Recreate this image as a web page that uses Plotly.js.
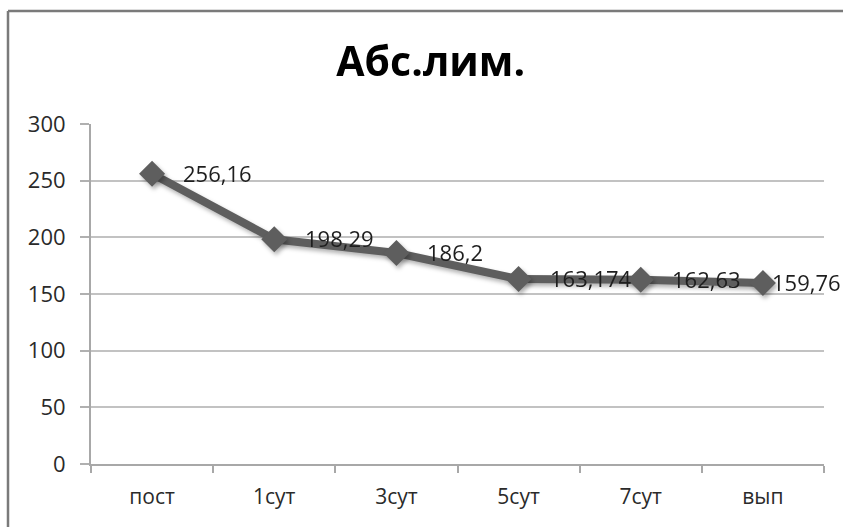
<!DOCTYPE html>
<html>
<head>
<meta charset="utf-8">
<script src="https://cdn.plot.ly/plotly-3.0.1.min.js"></script>
<style>
  html, body { margin: 0; padding: 0; background: #fff; }
  #chart { width: 843px; height: 527px; }
  /* soft drop shadow under the line and markers */
  #chart .scatterlayer .trace .lines,
  #chart .scatterlayer .trace .points {
    filter: drop-shadow(2px 3px 2px rgba(0,0,0,0.3));
  }
</style>
</head>
<body>
<div id="chart"></div>
<script>
// Periods of observation
const categories = ['пост', '1сут', '3сут', '5сут', '7сут', 'вып'];
// Absolute lymphocyte count per period
const values = [256.16, 198.29, 186.2, 163.174, 162.63, 159.76];
// Y axis ticks
const yTicks = [0, 50, 100, 150, 200, 250, 300];

// Labels written with a decimal comma
const labels = values.map(v => String(v).replace('.', ','));

const FONT = '"Open Sans", "DejaVu Sans", sans-serif';

const trace = {
  type: 'scatter',
  mode: 'lines+markers',
  x: categories,
  y: values,
  line: { color: '#5e5e5e', width: 8 },
  marker: { symbol: 'diamond', size: 20, color: '#5e5e5e' },
  cliponaxis: false,
  hoverinfo: 'x+y'
};

// value labels to the right of each point; the last one is pulled in to stay on the page
const labelShift = categories.map((c, i) => (i === categories.length - 1 ? 7 : 29));
const annotations = categories.map((c, i) => ({
  x: c,
  y: values[i],
  xref: 'x',
  yref: 'y',
  text: labels[i],
  showarrow: false,
  xanchor: 'left',
  yanchor: 'middle',
  xshift: labelShift[i],
  yshift: 1,
  font: { family: FONT, size: 22, color: '#1e1e1e' }
}));

// plot-area geometry in paper fractions, used for the outer frame
const L = 91, R = 19, T = 124, B = 63, W = 843, H = 527;
const pw = W - L - R, ph = H - T - B;
const px = xPix => (xPix - L) / pw;
const py = yPix => (H - B - yPix) / ph;

const layout = {
  width: W,
  height: H,
  margin: { l: L, r: R, t: T, b: B, pad: 0 },
  paper_bgcolor: '#ffffff',
  plot_bgcolor: '#ffffff',
  showlegend: false,
  font: { family: FONT, color: '#2a2a2a' },
  title: {
    text: 'Абс.лим.',
    font: { family: FONT, size: 41, color: '#000', weight: 'bold' },
    xref: 'container',
    yref: 'container',
    x: 0.511,
    xanchor: 'center',
    y: 1 - 62 / 527,
    yanchor: 'middle'
  },
  xaxis: {
    type: 'category',
    range: [-0.5, categories.length - 0.5],
    showgrid: false,
    showline: true,
    linecolor: '#a8a8a8',
    linewidth: 2,
    ticks: 'outside',
    tickson: 'boundaries',
    ticklen: 7,
    tickwidth: 2,
    tickcolor: '#a8a8a8',
    ticklabelstandoff: 13,
    tickfont: { family: FONT, size: 21, color: '#2a2a2a' },
    zeroline: false,
    fixedrange: true
  },
  yaxis: {
    range: [0, 300],
    tickvals: yTicks,
    ticktext: yTicks.map(String),
    showgrid: true,
    gridcolor: '#c2c2c2',
    gridwidth: 2,
    showline: true,
    linecolor: '#a8a8a8',
    linewidth: 2,
    ticks: 'outside',
    ticklen: 9,
    tickwidth: 2,
    tickcolor: '#b0b0b0',
    ticklabelstandoff: 10,
    tickfont: { family: FONT, size: 22, color: '#2a2a2a' },
    zeroline: false,
    fixedrange: true
  },
  annotations: annotations,
  shapes: [
    // outer chart frame (top and left edges)
    { type: 'line', xref: 'paper', yref: 'paper', layer: 'above',
      x0: px(8), x1: px(860), y0: py(11), y1: py(11),
      line: { color: '#7a7a7a', width: 2.5 } },
    { type: 'line', xref: 'paper', yref: 'paper', layer: 'above',
      x0: px(8), x1: px(8), y0: py(11), y1: py(540),
      line: { color: '#7a7a7a', width: 2.5 } }
  ]
};

Plotly.newPlot('chart', [trace], layout, { displayModeBar: false, staticPlot: true });
</script>
</body>
</html>
